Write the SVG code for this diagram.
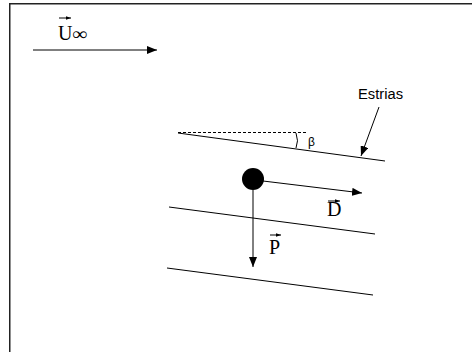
<svg xmlns="http://www.w3.org/2000/svg" width="472" height="352" viewBox="0 0 472 352">
<style>
.ln{stroke:#000;stroke-width:1;fill:none}
.ar{stroke:#000;stroke-width:1;fill:none;marker-end:url(#ah)}
.sym{font-family:"Liberation Serif","Times New Roman",serif;font-size:20px;fill:#000}
.lbl{font-family:"Liberation Sans",Arial,sans-serif;font-size:14px;fill:#000}
</style>
<defs>
<marker id="ah" viewBox="0 0 10 8" refX="10" refY="4" markerWidth="10" markerHeight="8" markerUnits="userSpaceOnUse" orient="auto">
<path d="M0,0 L10,4 L0,8 Z" fill="#000"/>
</marker>
<marker id="sa" viewBox="0 0 6 4" refX="6" refY="2" markerWidth="5" markerHeight="4" markerUnits="userSpaceOnUse" orient="auto">
<path d="M0,0 L6,2 L0,4 Z" fill="#000"/>
</marker>
</defs>
<rect x="0" y="0" width="472" height="352" fill="#fff"/>
<rect x="9.75" y="3.75" width="480" height="370" fill="none" stroke="#222" stroke-width="1.5"/>
<g id="striae">
<line class="ln" x1="178" y1="133" x2="385" y2="161"/>
<line class="ln" x1="169" y1="207" x2="375" y2="234"/>
<line class="ln" x1="167" y1="268" x2="373" y2="295"/>
<line class="ln" x1="178" y1="132.5" x2="306" y2="132.5" stroke-dasharray="3,2"/>
<path class="ln" d="M296,133 Q299,141 296,148"/>
<text class="lbl" x="308" y="146" style="font-size:12px">β</text>
</g>
<g id="flow">
<text class="sym" x="58" y="40">U</text>
<text class="sym" x="72" y="40" style="font-size:18px" textLength="15" lengthAdjust="spacingAndGlyphs">∞</text>
<line class="ln" x1="59" y1="18" x2="71" y2="18" style="marker-end:url(#sa)"/>
</g>
<g id="particle">
<circle cx="253" cy="179" r="11" fill="#000"/>
<text class="sym" x="327" y="216">D</text>
<line class="ln" x1="328" y1="201" x2="340" y2="201" style="marker-end:url(#sa)"/>
<text class="sym" x="269" y="254">P</text>
<line class="ln" x1="270" y1="235" x2="281" y2="235" style="marker-end:url(#sa)"/>
</g>
<g id="estrias">
<text class="lbl" x="358" y="99" textLength="45" lengthAdjust="spacingAndGlyphs">Estrias</text>
</g>
<g id="connectors">
<line class="ar" x1="33" y1="50" x2="157" y2="50"/>
<line class="ar" x1="263" y1="181" x2="362" y2="193"/>
<line class="ar" x1="253" y1="190" x2="253" y2="267"/>
<line class="ar" x1="379" y1="107" x2="361" y2="156"/>
</g>
</svg>
